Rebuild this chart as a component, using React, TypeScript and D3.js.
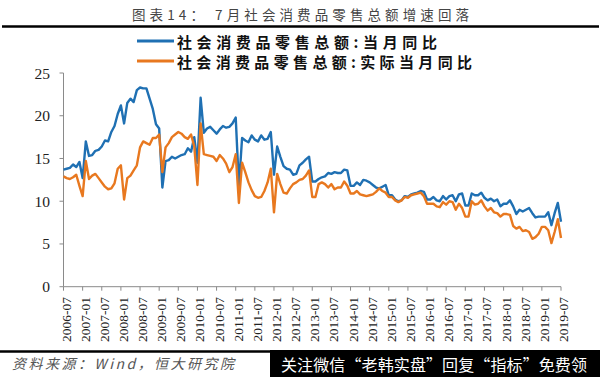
import React from "react";
import * as d3 from "d3";

const startYear = 2006;
const startMonth = 7;

const nominalYoY: number[] = [
  13.7, 13.8, 13.9, 14.3, 14.0, 14.6,
  12.7, 17.0, 15.3, 15.4, 15.9, 16.0, 16.4, 17.1, 17.0, 18.1, 18.8, 20.2,
  21.2, 19.1, 21.5, 22.0, 21.6, 23.0, 23.3, 23.2, 23.2, 22.0, 20.8, 19.0,
  18.5, 11.6, 14.7, 14.8, 15.2, 15.0, 15.2, 15.4, 15.5, 16.2, 15.8, 17.5,
  14.5, 22.1, 18.0, 18.5, 18.7, 18.3, 17.9, 18.4, 18.8, 18.6, 18.7, 19.1,
  19.8, 11.8, 17.4, 17.1, 16.9, 17.7, 17.2, 17.0, 17.7, 17.2, 17.3, 18.1,
  13.1, 16.4, 15.2, 14.1, 13.8, 13.7, 13.1, 13.2, 14.2, 14.5, 14.9, 15.2,
  12.3, 12.3, 12.6, 12.8, 12.9, 13.3, 13.2, 13.4, 13.3, 13.3, 13.7, 13.6,
  11.8, 11.8, 12.2, 11.9, 12.5, 12.4, 12.2, 11.9, 11.6, 11.5, 11.7, 11.9,
  10.7, 10.7, 10.2, 10.0, 10.1, 10.6, 10.5, 10.8, 10.9, 11.0, 11.2, 11.1,
  10.2, 10.2, 10.5, 10.1, 10.0, 10.6, 10.2, 10.6, 10.7, 10.0, 10.8, 10.9,
  9.5, 9.5, 10.9, 10.7, 10.7, 11.0, 10.4, 10.1, 10.3, 10.0, 10.2, 9.4,
  9.7, 9.7, 10.1, 9.4, 8.5, 9.0, 8.8, 9.0, 9.2, 8.6, 8.1, 8.2,
  8.2, 8.2, 8.7, 7.2, 8.6, 9.8, 7.6,
];

const realYoY: number[] = [
  12.9, 12.7, 12.6, 12.8, 13.1, 11.8,
  10.6, 14.7, 12.6, 13.0, 13.2, 12.7, 12.2, 11.7, 11.4, 11.5, 12.1, 13.8,
  14.2, 10.2, 12.7, 13.0, 13.6, 14.2, 16.3, 17.0, 16.8, 16.6, 17.4, 17.4,
  17.8, 13.4, 16.3, 16.8, 17.5, 17.8, 18.1, 17.9, 17.5, 17.3, 17.8, 16.4,
  11.9, 19.1, 15.5, 15.4, 15.3, 15.2, 14.7, 15.4, 15.0, 14.4, 13.4, 14.0,
  15.5, 9.8, 14.5, 13.4, 12.2, 11.3, 10.6, 10.4, 10.5, 11.2, 12.2, 13.8,
  8.7, 13.2, 12.0, 11.0, 10.9, 11.5, 12.0, 12.2, 12.5, 12.6, 13.0, 13.6,
  10.5, 10.5, 12.0, 12.2, 12.0, 11.6, 12.0, 11.4, 11.6, 11.6, 12.3, 11.8,
  10.9, 10.9, 11.2, 10.8, 10.7, 10.6, 10.7, 10.8, 11.1, 11.5, 11.2, 11.0,
  10.5, 10.5, 10.1, 9.9, 10.1, 10.5, 10.4, 10.7, 10.8, 10.9, 11.0, 10.6,
  9.7, 9.7, 9.7, 9.4, 9.3, 9.9, 9.6, 10.0, 9.9, 9.0, 9.7, 9.2,
  8.2, 8.2, 10.0, 9.6, 9.7, 10.1, 9.4, 8.9, 9.2, 8.7, 8.6, 8.2,
  8.5, 8.5, 8.4, 7.1, 6.8, 7.0, 6.5, 6.6, 6.4, 5.6, 5.8, 6.2,
  7.0, 7.0, 6.6, 5.1, 6.4, 7.9, 5.7,
];

const xTickLabels: string[] = [
  "2006-07", "2007-01", "2007-07", "2008-01", "2008-07", "2009-01", "2009-07",
  "2010-01", "2010-07", "2011-01", "2011-07", "2012-01", "2012-07", "2013-01",
  "2013-07", "2014-01", "2014-07", "2015-01", "2015-07", "2016-01", "2016-07",
  "2017-01", "2017-07", "2018-01", "2018-07", "2019-01", "2019-07",
];

const yTicks: number[] = [0, 5, 10, 15, 20, 25];

const seriesNames: string[] = [
  "社会消费品零售总额:当月同比",
  "社会消费品零售总额:实际当月同比",
];

const titleText = "图表14： 7月社会消费品零售总额增速回落";
const sourceText = "资料来源：Wind，恒大研究院";
const watermarkText = "关注微信“老韩实盘”回复“指标”免费领";

const BLUE = "#1f70b3";
const ORANGE = "#e8781f";

export default function App() {
  const W = 600;
  const H = 377;
  const n = nominalYoY.length;
  const x = d3.scaleLinear().domain([0, n - 1]).range([63.5, 561]);
  const y = d3.scaleLinear().domain([0, 25]).range([286.7, 73]);

  const line = d3
    .line<number>()
    .x((_, i) => x(i))
    .y((d) => y(d));

  const tickIndex = (label: string) => {
    const [yy, mm] = label.split("-").map(Number);
    return (yy - startYear) * 12 + (mm - startMonth);
  };

  const cjk = "'Noto Sans CJK SC', 'Noto Sans', sans-serif";
  const serif = "'Liberation Serif', 'DejaVu Serif', serif";

  return (
    <svg
      width={W}
      height={H}
      viewBox={`0 0 ${W} ${H}`}
      style={{ position: "absolute", left: 0, top: 0, background: "#fff" }}
    >
      <rect x={0} y={0} width={W} height={H} fill="#fff" />
      {/* title */}
      <text
        x={132}
        y={14}
        fontFamily={cjk}
        fontSize={13.5}
        fill="#444"
        dominantBaseline="central"
        textLength={337}
        lengthAdjust="spacing"
      >
        {titleText}
      </text>
      <line x1={2} x2={599} y1={26.5} y2={26.5} stroke="#000" strokeWidth={2.4} />

      {/* legend */}
      {seriesNames.map((name, i) => (
        <g key={name}>
          <line
            x1={137}
            x2={174}
            y1={41 + i * 20}
            y2={41 + i * 20}
            stroke={i === 0 ? BLUE : ORANGE}
            strokeWidth={3}
          />
          <text
            x={177}
            y={41 + i * 20}
            fontFamily={cjk}
            fontWeight={700}
            fontSize={15}
            fill="#111"
            dominantBaseline="central"
            textLength={i === 0 ? 260 : 295}
            lengthAdjust="spacing"
          >
            {name}
          </text>
        </g>
      ))}

      {/* y axis */}
      <line x1={x(0)} x2={x(0)} y1={y(25)} y2={y(0)} stroke="#8a8a8a" strokeWidth={1} />
      {yTicks.map((t) => (
        <g key={t}>
          <line x1={x(0) - 4} x2={x(0)} y1={y(t)} y2={y(t)} stroke="#8a8a8a" strokeWidth={1} />
          <text
            x={50}
            y={y(t)}
            textAnchor="end"
            dominantBaseline="central"
            fontFamily={serif}
            fontSize={15.5}
            fill="#222"
          >
            {t}
          </text>
        </g>
      ))}

      {/* x axis */}
      <line x1={x(0)} x2={x(n - 1)} y1={y(0)} y2={y(0)} stroke="#8a8a8a" strokeWidth={1} />
      {xTickLabels.map((lab) => {
        const xi = x(tickIndex(lab));
        return (
          <g key={lab}>
            <line x1={xi} x2={xi} y1={y(0)} y2={y(0) + 4} stroke="#8a8a8a" strokeWidth={1} />
            <text
              transform={`translate(${xi + 2.5},297) rotate(-90)`}
              textAnchor="end"
              dominantBaseline="central"
              fontFamily={serif}
              fontSize={13.5}
              fill="#222"
            >
              {lab}
            </text>
          </g>
        );
      })}

      {/* series */}
      <path d={line(nominalYoY) || ""} fill="none" stroke={BLUE} strokeWidth={2.4} strokeLinejoin="round" />
      <path d={line(realYoY) || ""} fill="none" stroke={ORANGE} strokeWidth={2.4} strokeLinejoin="round" />

      {/* footer */}
      <line x1={0} x2={600} y1={351.5} y2={351.5} stroke="#000" strokeWidth={2.4} />
      <text
        x={12}
        y={363}
        fontFamily={cjk}
        fontStyle="italic"
        fontSize={14}
        fill="#555"
        dominantBaseline="central"
        textLength={222}
        lengthAdjust="spacing"
      >
        {sourceText}
      </text>
      <rect x={270} y={350} width={330} height={27} fill="#000" />
      <text
        x={281}
        y={364}
        fontFamily={cjk}
        fontSize={16}
        fill="#fff"
        dominantBaseline="central"
        textLength={306}
        lengthAdjust="spacing"
      >
        {watermarkText}
      </text>
    </svg>
  );
}
